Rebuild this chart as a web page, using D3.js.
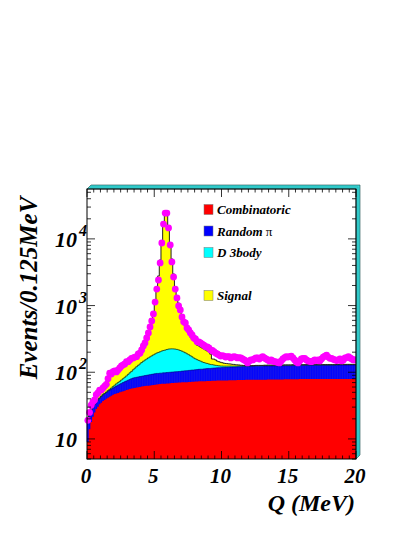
<!DOCTYPE html>
<html>
<head>
<meta charset="utf-8">
<script src="https://cdn.jsdelivr.net/npm/d3@7"></script>
<style>
  body { margin: 0; background: white; }
</style>
</head>
<body>
<div id="chart"></div>
<script>
// Q binning: 160 bins of 0.125 MeV from 0 to 20
const binWidth = 0.125;

// stacked components, events per bin
const combinatoric = [
  9, 14, 18, 21.5, 25, 28, 30.5, 33, 35, 37, 38.5, 40, 41.5, 43, 44.5, 46,
  47, 48, 49, 50, 51, 52, 53, 54, 55, 56, 57, 57.5, 58, 59, 59.5, 60,
  61, 61.5, 62, 62.5, 63, 63.5, 64, 64.5, 65, 65.5, 66, 66.5, 67, 67, 67.5, 68,
  68, 68.5, 69, 69, 69.5, 69.5, 70, 70, 70.5, 70.5, 71, 71, 71.5, 71.5, 72, 72,
  72.5, 72.5, 73, 73, 73, 73.5, 73.5, 74, 74, 74, 74.5, 74.5, 74.5, 75, 75, 75,
  75.5, 75.5, 75.5, 75.5, 76, 76, 76, 76, 76, 76.5, 76.5, 76.5, 76.5, 76.5, 77, 77,
  77, 77, 77, 77, 77.5, 77.5, 77.5, 77.5, 77.5, 77.5, 77.5, 78, 78, 78, 78, 78,
  78, 78, 78, 78, 78, 78.5, 78.5, 78.5, 78.5, 78.5, 78.5, 78.5, 78.5, 78.5, 79, 79,
  79, 79, 79, 79, 79, 79, 79, 79, 79, 79, 79, 79, 79, 79, 79, 79,
  79, 79, 79, 79, 79.5, 79.5, 79.5, 79.5, 79.5, 79.5, 79.5, 79.5, 79.5, 79.5, 79.5, 79.5
];
const randomPi = [
  12, 10, 9, 8.5, 8, 8, 8, 8, 8.5, 9, 9.5, 10, 10.5, 11, 11.5, 12,
  13, 14, 15, 16, 17, 18, 19, 20, 21, 22, 23, 24.5, 25, 25, 25.5, 26,
  26, 26.5, 27, 27.5, 28, 28.5, 29, 29.5, 30, 30.5, 30, 30.5, 30, 31, 30.5, 31,
  31.5, 31.5, 31.5, 32, 32, 32.5, 32.5, 33, 33.5, 34, 34, 34.5, 35, 35.5, 36, 36,
  36.5, 37, 37.5, 38, 38, 38.5, 39, 39.5, 40, 40, 40.5, 41, 41.5, 41.5, 42, 42,
  42.5, 42.5, 43, 43, 43, 43.5, 43.5, 44, 44, 44, 44.5, 44.5, 45, 45, 45, 45.5,
  45.5, 45.5, 45.5, 46, 46, 46, 46, 46, 46, 46.5, 46.5, 46.5, 46.5, 46.5, 46.5, 46.5,
  46.5, 46.5, 47, 47, 47, 47, 47, 47, 47, 47, 47.5, 47.5, 47.5, 47.5, 47.5, 47.5,
  47.5, 47.5, 48, 48, 48, 48, 48, 48, 48, 48, 48, 48, 48, 48, 48, 48,
  48, 48, 48, 48, 48, 48.5, 48.5, 48.5, 48.5, 48.5, 48.5, 48.5, 48.5, 48.5, 48.5, 48.5
];
const d3body = [
  0, 0, 0, 0, 0, 0, 0, 0, 0, 0, 0, 0, 1, 1.5, 2, 3,
  4, 5, 6, 7, 8.5, 10, 12, 14, 17, 20, 23, 27, 32, 37, 42, 47,
  53, 58, 63, 68, 73, 78, 83, 88, 93, 98, 102, 106, 111, 114, 117, 120,
  123, 124, 124, 123, 121, 118, 114, 109, 103, 97, 91, 84, 77, 70, 63, 56,
  50, 45, 40, 36, 32, 28, 25, 22, 19, 17, 15, 13, 11, 9.5, 8, 7,
  6, 5.5, 5, 5, 4.5, 4.5, 4, 4, 3.5, 3.5, 3.5, 3.5, 3.5, 3.5, 3.5, 3.5,
  3, 3, 3, 3, 3, 3, 3, 3, 3, 3, 3, 3, 3, 3, 3, 3,
  3, 3, 3, 3, 3, 3, 3, 3, 3, 3, 3, 3, 3, 3, 3, 3,
  3, 3, 3, 3, 3, 3, 3, 3, 3, 3, 3, 3, 3, 3, 3, 3,
  3, 3, 3, 3, 3, 3, 3, 3, 3, 3, 3, 3, 3, 3, 3, 3
];
const signal = [
  0, 2, 5, 7, 8, 10, 12, 13, 15, 16, 19, 22, 24, 30, 33, 37,
  37, 38, 38, 41, 44, 44, 47, 50, 50, 50, 53, 52, 54, 58, 61, 68,
  76, 89, 113, 147, 198, 275, 392, 593, 942, 1521, 2582, 4627, 8792, 15938, 24185, 24181,
  14377, 8456, 4776, 2756, 1678, 1170, 873, 647, 445, 346, 282, 226, 192, 161, 146, 130,
  116, 101, 98, 92, 88, 84, 78, 73, 68, 56, 28, 29, 26, 21, 19, 17,
  15, 13, 12, 11, 10, 9, 8, 7, 6, 5, 4, 3, 2, 1, 0, 0,
  0, 0, 0, 0, 0, 0, 0, 0, 0, 0, 0, 0, 0, 0, 0, 0,
  0, 0, 0, 0, 0, 0, 0, 0, 0, 0, 0, 0, 0, 0, 0, 0,
  0, 0, 0, 0, 0, 0, 0, 0, 0, 0, 0, 0, 0, 0, 0, 0,
  0, 0, 0, 0, 0, 0, 0, 0, 0, 0, 0, 0, 0, 0, 0, 0
];
// data points, events per bin
const dataCounts = [
  19, 25, 32, 36, 38.5, 46, 49, 54, 54, 58, 62, 66, 80, 97, 94, 102,
  105, 101, 108, 116, 124, 129, 133, 144, 144, 153, 162, 164, 169, 171, 188, 193,
  216, 248, 275, 327, 388, 478, 587, 748, 1130, 1770, 2420, 4360, 8680, 16700, 24400, 24400,
  14600, 8100, 4520, 2680, 1770, 1300, 985, 860, 675, 570, 550, 461, 430, 388, 362, 327,
  316, 286, 284, 275, 265, 256, 242, 239, 231, 216, 212, 203, 194, 188, 181, 175,
  178, 175, 169, 172, 171, 164, 169, 171, 169, 164, 166, 164, 158, 153, 148, 138,
  148, 153, 153, 158, 164, 164, 158, 166, 171, 164, 158, 153, 148, 153, 148, 144,
  143, 140, 138, 148, 158, 166, 171, 169, 172, 175, 164, 153, 143, 138, 148, 158,
  161, 162, 153, 148, 146, 144, 148, 153, 150, 153, 148, 158, 169, 175, 181, 169,
  162, 162, 156, 153, 150, 153, 158, 148, 153, 164, 166, 171, 164, 158, 153, 153
];

const legendNames = ["Combinatoric", "Random \u03c0", "D 3body", "", "Signal"];
const legendColors = ["#ff0000", "#0000ff", "#00ffff", null, "#ffff00"];
const xTickLabels = [0, 5, 10, 15, 20];
const yDecades = [1, 2, 3, 4];

let w = 415;
let h = 537;
let fLeft = 87, fRight = 356, fTop = 189, fBottom = 459;
let font = "'Liberation Serif', 'Times New Roman', serif";

let svg = d3.select("#chart")
  .append("svg")
  .attr("width", w)
  .attr("height", h)
  .style("background-color", "white");

let x = d3.scaleLinear().domain([0, 20]).range([fLeft, fRight]);
let y = d3.scaleLog().domain([5, 56000]).range([fBottom, fTop]).clamp(true);

// cumulative stack per bin
let bins = combinatoric.map(function(c, i) {
  let red = c;
  let blue = red + randomPi[i];
  let cyan = blue + d3body[i];
  let total = cyan + signal[i];
  return { lo: i * binWidth, hi: (i + 1) * binWidth, mid: (i + 0.5) * binWidth,
           red: red, blue: blue, cyan: cyan, total: total, data: dataCounts[i] };
});

function steps(key) {
  let pts = [];
  bins.forEach(function(b) {
    pts.push({ q: b.lo, v: b[key] });
    pts.push({ q: b.hi, v: b[key] });
  });
  return pts;
}

let area = d3.area()
  .x(function(d) { return x(d.q); })
  .y0(fBottom)
  .y1(function(d) { return y(d.v); });

let line = d3.line()
  .x(function(d) { return x(d.q); })
  .y(function(d) { return y(d.v); });

let plot = svg.append("g");

plot.append("path").datum(steps("total")).attr("d", area).attr("fill", "#ffff00");
plot.append("path").datum(steps("cyan")).attr("d", area).attr("fill", "#00ffff");
plot.append("path").datum(steps("blue")).attr("d", area).attr("fill", "#0000ff");

// bin edges show through the blue band
plot.selectAll(".blueedge").data(bins).enter()
  .append("line")
  .attr("class", "blueedge")
  .attr("x1", function(d) { return x(d.lo); })
  .attr("x2", function(d) { return x(d.lo); })
  .attr("y1", function(d) { return y(d.red); })
  .attr("y2", function(d) { return y(d.blue); })
  .attr("stroke", "#2b2bd9")
  .attr("stroke-width", 0.5);

plot.append("path").datum(steps("red")).attr("d", area).attr("fill", "#ff0000");

plot.append("path").datum(steps("blue")).attr("d", line)
  .attr("fill", "none").attr("stroke", "#00007a").attr("stroke-width", 0.6);
plot.append("path").datum(steps("cyan")).attr("d", line)
  .attr("fill", "none").attr("stroke", "#1a3a1a").attr("stroke-width", 0.8);
plot.append("path").datum(steps("total")).attr("d", line)
  .attr("fill", "none").attr("stroke", "#222").attr("stroke-width", 1);

// data markers
plot.selectAll(".pt").data(bins).enter()
  .append("circle")
  .attr("class", "pt")
  .attr("cx", function(d) { return x(d.mid); })
  .attr("cy", function(d) { return y(d.data); })
  .attr("r", 3.4)
  .attr("fill", "#ff00ff");

// frame shadow (top and right)
let sh = 4;
svg.append("path")
  .attr("d", "M" + fLeft + "," + fTop + " L" + (fLeft + sh) + "," + (fTop - sh) +
    " L" + (fRight + sh) + "," + (fTop - sh) + " L" + (fRight + sh) + "," + (fBottom - sh) +
    " L" + fRight + "," + fBottom + " L" + fRight + "," + fTop + " Z")
  .attr("fill", "#3ad6d6")
  .attr("stroke", "#1a4a4a")
  .attr("stroke-width", 0.6);
svg.append("path")
  .attr("d", "M" + (fLeft + 3) + "," + (fTop - 2) + " L" + (fRight + 2) + "," + (fTop - 2) +
    " L" + (fRight + 2) + "," + (fBottom - 3))
  .attr("fill", "none")
  .attr("stroke", "#14a0a0")
  .attr("stroke-width", 0.5);

// frame
svg.append("rect")
  .attr("x", fLeft).attr("y", fTop)
  .attr("width", fRight - fLeft).attr("height", fBottom - fTop)
  .attr("fill", "none").attr("stroke", "black").attr("stroke-width", 1);

// x ticks, bottom and top, inside
let xt = d3.range(0, 41).map(function(k) { return k * 0.5; });
let axes = svg.append("g").attr("stroke", "black").attr("stroke-width", 0.8);
xt.forEach(function(v, k) {
  let len = (k % 10 === 0) ? 8 : 3.5;
  axes.append("line").attr("x1", x(v)).attr("x2", x(v)).attr("y1", fBottom).attr("y2", fBottom - len);
  axes.append("line").attr("x1", x(v)).attr("x2", x(v)).attr("y1", fTop).attr("y2", fTop + len);
});

// y ticks (log), left and right, inside
let yt = [];
[1, 10, 100, 1000, 10000].forEach(function(d) {
  for (let m = 1; m <= 9; m++) {
    let v = m * d;
    if (v >= 5 && v <= 56000) yt.push({ v: v, major: m === 1 });
  }
});
yt.forEach(function(t) {
  let len = t.major ? 8 : 4;
  axes.append("line").attr("x1", fLeft).attr("x2", fLeft + len).attr("y1", y(t.v)).attr("y2", y(t.v));
  axes.append("line").attr("x1", fRight).attr("x2", fRight - len).attr("y1", y(t.v)).attr("y2", y(t.v));
});

// tick labels
svg.selectAll(".xlab").data(xTickLabels).enter()
  .append("text")
  .attr("class", "xlab")
  .text(function(d) { return d; })
  .attr("x", function(d) { return x(d) - 1; })
  .attr("y", 483)
  .attr("text-anchor", "middle")
  .attr("font-family", font)
  .attr("font-weight", "bold")
  .attr("font-style", "italic")
  .attr("font-size", "21px");

yDecades.forEach(function(e) {
  let yy = y(Math.pow(10, e));
  svg.append("text")
    .text("10")
    .attr("x", 77).attr("y", yy + 8)
    .attr("text-anchor", "end")
    .attr("font-family", font).attr("font-weight", "bold").attr("font-style", "italic")
    .attr("font-size", "22px");
  if (e > 1) {
    svg.append("text")
      .text(e)
      .attr("x", 79).attr("y", yy - 3)
      .attr("font-family", font).attr("font-weight", "bold").attr("font-style", "italic")
      .attr("font-size", "16px");
  }
});

// axis titles
svg.append("text")
  .text("Events/0.125MeV")
  .attr("transform", "translate(37," + 288 + ") rotate(-90)")
  .attr("text-anchor", "middle")
  .attr("font-family", font).attr("font-weight", "bold").attr("font-style", "italic")
  .attr("font-size", "25px");

svg.append("text")
  .text("Q (MeV)")
  .attr("x", 355).attr("y", 511)
  .attr("text-anchor", "end")
  .attr("font-family", font).attr("font-weight", "bold").attr("font-style", "italic")
  .attr("font-size", "24px");

// legend
let legend = svg.append("g");
legendNames.forEach(function(name, i) {
  if (!name) return;
  let cy = 209.5 + i * 21.5;
  legend.append("rect")
    .attr("x", 204).attr("y", cy - 5)
    .attr("width", 9).attr("height", 10)
    .attr("fill", legendColors[i])
    .attr("stroke", "#777").attr("stroke-width", 0.5);
  let t = legend.append("text")
    .attr("x", 217).attr("y", cy + 4.5)
    .attr("font-family", font).attr("font-weight", "bold").attr("font-style", "italic")
    .attr("font-size", "13px");
  if (name.indexOf("\u03c0") >= 0) {
    t.append("tspan").text("Random ");
    t.append("tspan").text("\u03c0").attr("font-style", "normal").attr("font-weight", "normal");
  } else {
    t.text(name);
  }
});
</script>
</body>
</html>
